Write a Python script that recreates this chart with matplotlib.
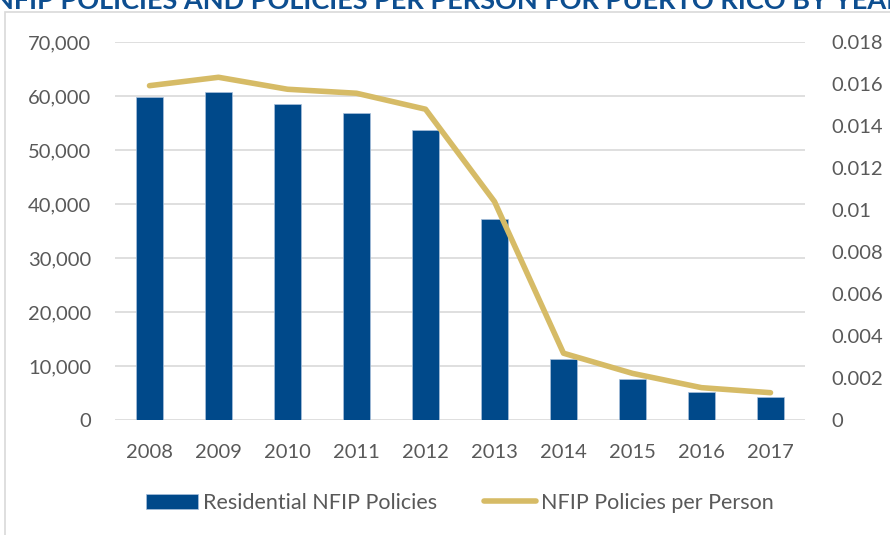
import matplotlib
matplotlib.use("Agg")
import matplotlib.pyplot as plt
from matplotlib.patches import Rectangle
from matplotlib.ticker import FuncFormatter, MultipleLocator

years = ["2008", "2009", "2010", "2011", "2012", "2013", "2014", "2015", "2016", "2017"]
policies = [59800, 60700, 58500, 56850, 53700, 37200, 11300, 7600, 5200, 4250]
per_person = [0.01592, 0.01632, 0.01575, 0.01556, 0.0148, 0.0104, 0.00318, 0.00222, 0.00154, 0.0013]

title = "NFIP POLICIES AND POLICIES PER PERSON FOR PUERTO RICO BY YEAR"

bar_color = "#00498a"
line_color = "#d6bb66"
text_color = "#595959"
grid_color = "#d9d9d9"

plt.rcParams['font.family'] = ['Lato', 'DejaVu Sans']

fig = plt.figure(figsize=(8.9, 5.35), dpi=100)

# outer chart frame (only top and left edges are visible)
fig.patches.append(Rectangle((5 / 890, -0.1), 1.2, 1 - 12 / 535 + 0.1,
                             transform=fig.transFigure, fill=False,
                             edgecolor=grid_color, linewidth=1.2))

# title, mostly cropped off the top of the picture
fig.text(448 / 890, 1 - 9 / 535, title, ha="center", va="baseline",
         fontsize=19.5, fontweight="bold", color="#0d4e90")

ax = fig.add_axes([115 / 890, 1 - 420 / 535, 690 / 890, 378 / 535])
x = range(len(years))
ax.bar(x, policies, width=0.4, color=bar_color, edgecolor="#a9c1dc",
       linewidth=0.5, zorder=2, label="Residential NFIP Policies")
ax.set_xlim(-0.5, len(years) - 0.5)
ax.set_ylim(0, 70000)
ax.yaxis.set_major_locator(MultipleLocator(10000))
ax.yaxis.set_major_formatter(FuncFormatter(lambda v, p: f"{int(v):,}"))
ax.set_xticks(list(x))
ax.set_xticklabels(years)
ax.grid(axis="y", color=grid_color, linewidth=1.2, zorder=0)
for s in ax.spines.values():
    s.set_visible(False)
ax.tick_params(length=0, labelsize=14.5, colors=text_color, pad=17)
ax.tick_params(axis="x", pad=17)

ax2 = ax.twinx()
ax2.plot(list(x), per_person, color=line_color, linewidth=4,
         solid_capstyle="round", zorder=3, label="NFIP Policies per Person")
ax2.set_ylim(0, 0.018)
ax2.yaxis.set_major_locator(MultipleLocator(0.002))
ax2.yaxis.set_major_formatter(FuncFormatter(lambda v, p: "0" if v == 0 else f"{v:.3f}".rstrip("0")))
for s in ax2.spines.values():
    s.set_visible(False)
ax2.tick_params(length=0, labelsize=14.5, colors=text_color, pad=19)

h1, l1 = ax.get_legend_handles_labels()
h2, l2 = ax2.get_legend_handles_labels()
fig.legend(h1 + h2, l1 + l2, loc="center", bbox_to_anchor=(460 / 890, 1 - 503 / 535),
           ncol=2, frameon=False, fontsize=15.5, labelcolor=text_color,
           handlelength=2.4, handletextpad=0.25, columnspacing=2.2)

fig.savefig("out.png", dpi=100)
